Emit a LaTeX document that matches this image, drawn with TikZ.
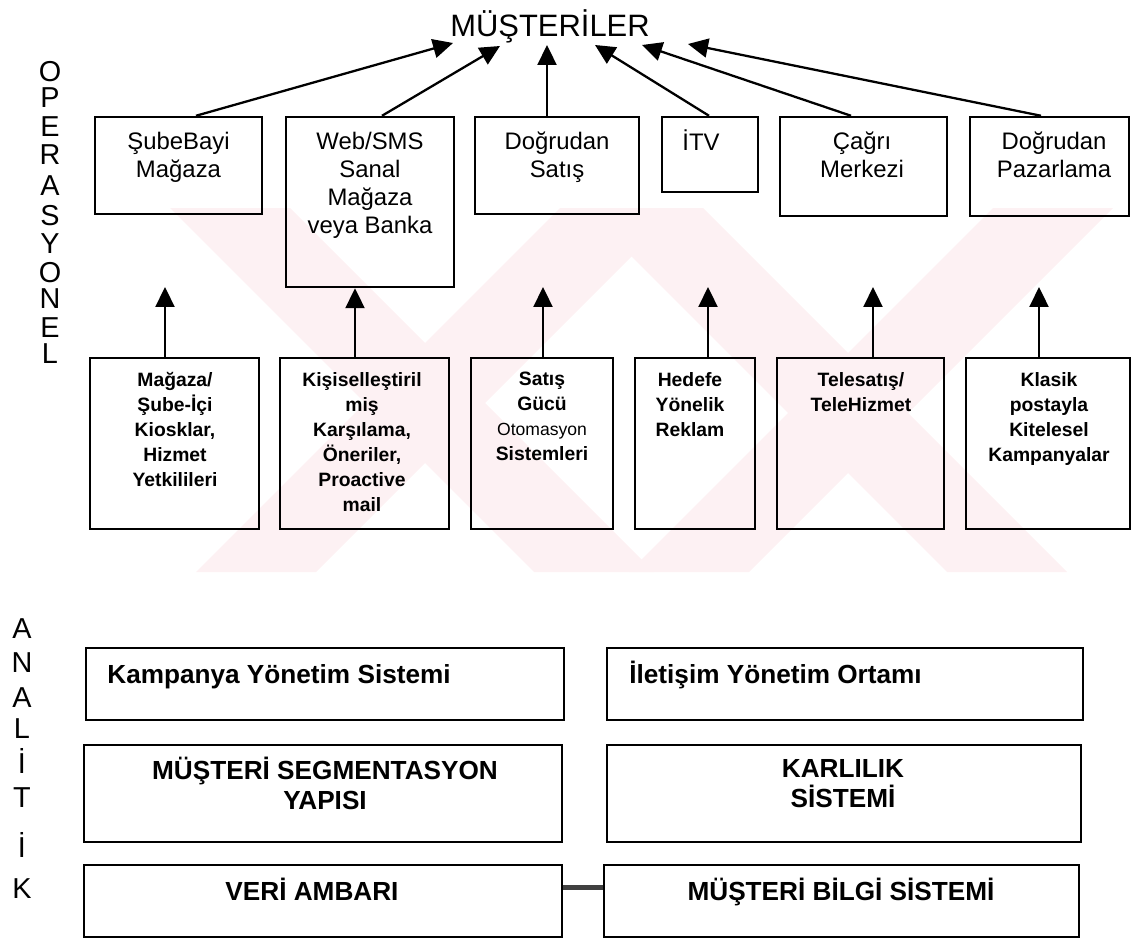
\documentclass[tikz,border=0pt]{standalone}
\usepackage{fontspec}
\setmainfont{Liberation Sans}
\usetikzlibrary{arrows.meta,fit}
\definecolor{filigran}{RGB}{253,241,243}

\begin{document}
\begin{tikzpicture}[x=0.02cm,y=-0.02cm,
  kutu/.style={draw, line width=1.4pt, inner sep=0pt},
  ustyazi/.style={anchor=north, align=center, inner sep=0pt, font=\fontsize{13.6}{15.9}\selectfont},
  altyazi/.style={anchor=north, align=center, inner sep=0pt, font=\bfseries\fontsize{11}{14.2}\selectfont},
  anayazi/.style={inner sep=0pt, align=center, font=\bfseries\fontsize{14.9}{17}\selectfont},
  harf/.style={anchor=base, inner sep=0pt, font=\fontsize{16.4}{16}\selectfont},
  ok/.style={line width=1.3pt, -{Triangle[length=0.4cm,width=0.38cm]}}]
\useasboundingbox (0,0) rectangle (1131,939);

% filigran
\begin{scope}
\clip (165,208) rectangle (1131,572);
\foreach \a in {170,583} \fill[filigran] (\a,208) -- ++(120,0) -- ++(364,364) -- ++(-120,0) -- cycle;
\foreach \a in {560,993} \fill[filigran] (\a,208) -- ++(120,0) -- ++(-364,364) -- ++(-120,0) -- cycle;
\end{scope}

\node[anchor=base, inner sep=0pt, font=\fontsize{17.6}{20}\selectfont] (mus) at (550,37) {MÜŞTERİLER};

% yan yazilar
\foreach \h/\y [count=\i] in {O/82,P/108,E/137,R/165,A/195,S/225,Y/253,O/282,N/308,E/337,L/363}
  \node[harf] (op\i) at (50,\y) {\h};
\foreach \h/\y [count=\i] in {A/638,N/672,A/707,L/738,İ/773,T/807,İ/857,K/898}
  \node[harf] (an\i) at (22,\y) {\h};

% kanallar
\node[kutu, fit={(95,117) (262,214)}] (sube) {};
\node[kutu, fit={(286,117) (454,287)}] (web) {};
\node[kutu, fit={(475,117) (639,214)}] (dsatis) {};
\node[kutu, fit={(662,117) (758,192)}] (itv) {};
\node[kutu, fit={(780,117) (947,216)}] (cagri) {};
\node[kutu, fit={(970,117) (1129,216)}] (dpaz) {};
\node[ustyazi] (subeY) at (178.5,132) {ŞubeBayi\\Mağaza};
\node[ustyazi] (webY) at (370,132) {Web/SMS\\Sanal\\Mağaza\\veya Banka};
\node[ustyazi] (dsatisY) at (557,132) {Doğrudan\\Satış};
\node[ustyazi] (itvY) at (701,129) {İTV};
\node[ustyazi] (cagriY) at (862,132) {Çağrı\\Merkezi};
\node[ustyazi] (dpazY) at (1054,132) {Doğrudan\\Pazarlama};

\coordinate (m1) at (453,43);
\coordinate (m2) at (500,46);
\coordinate (m3) at (547,45);
\coordinate (m4) at (595,45);
\coordinate (m5) at (642,45);
\coordinate (m6) at (688,44);
\draw[ok] (sube.north -| 196,0) -- (m1);
\draw[ok] (web.north -| 382,0) -- (m2);
\draw[ok] (dsatis.north -| m3) -- (m3);
\draw[ok] (itv.north -| 709,0) -- (m4);
\draw[ok] (cagri.north -| 851,0) -- (m5);
\draw[ok] (dpaz.north -| 1041,0) -- (m6);

% araclar
\node[kutu, fit={(90,358) (259,529)}] (kiosk) {};
\node[kutu, fit={(280,358) (449,529)}] (kisi) {};
\node[kutu, fit={(471,358) (613,529)}] (sgucu) {};
\node[kutu, fit={(635,358) (755,529)}] (hedef) {};
\node[kutu, fit={(777,358) (944,529)}] (tele) {};
\node[kutu, fit={(966,358) (1130,529)}] (klasik) {};
\node[altyazi] (kioskY) at (175,372) {Mağaza/\\Şube-İçi\\Kiosklar,\\Hizmet\\Yetkilileri};
\node[altyazi] (kisiY) at (362,372) {Kişiselleştiril\\miş\\Karşılama,\\Öneriler,\\Proactive\\mail};
\node[altyazi] (sgucuY) at (542,372) {Satış\\Gücü\\{\mdseries\fontsize{10}{14.2}\selectfont Otomasyon}\\Sistemleri};
\node[altyazi] (hedefY) at (690,372) {Hedefe\\Yönelik\\Reklam};
\node[altyazi] (teleY) at (861,372) {Telesatış/\\TeleHizmet};
\node[altyazi] (klasikY) at (1049,372) {Klasik\\postayla\\Kitelesel\\Kampanyalar};

\coordinate (a1) at (165,287);
\coordinate (a3) at (543,287);
\coordinate (a4) at (708,287);
\coordinate (a5) at (873,287);
\coordinate (a6) at (1039,287);
\draw[ok] (kiosk.north -| a1) -- (a1);
\draw[ok] (kisi.north -| 355,0) -- (web.south -| 355,0);
\draw[ok] (sgucu.north -| a3) -- (a3);
\draw[ok] (hedef.north -| a4) -- (a4);
\draw[ok] (tele.north -| a5) -- (a5);
\draw[ok] (klasik.north -| a6) -- (a6);

% analitik katman
\node[kutu, fit={(86,648) (564,720)}] (kys) {};
\node[kutu, fit={(607,648) (1083,720)}] (iyo) {};
\node[kutu, fit={(84,745) (562,842)}] (seg) {};
\node[kutu, fit={(607,745) (1081,842)}] (karl) {};
\node[kutu, fit={(84,865) (562,937)}] (veri) {};
\node[kutu, fit={(604,865) (1079,937)}] (mbs) {};
\node[anayazi, anchor=base west] (kysY) at (107,683) {Kampanya Yönetim Sistemi};
\node[anayazi, anchor=base west] (iyoY) at (629,683) {İletişim Yönetim Ortamı};
\node[anayazi, anchor=north] (segY) at (325,757) {MÜŞTERİ SEGMENTASYON\\YAPISI};
\node[anayazi, anchor=north] (karlY) at (843,759) {KARLILIK\\SİSTEMİ};
\node[anayazi, anchor=base] (veriY) at (312,900) {VERİ AMBARI};
\node[anayazi, anchor=base] (mbsY) at (841,900) {MÜŞTERİ BİLGİ SİSTEMİ};
\draw[line width=3pt, black!75] ([yshift=0.27cm]veri.east) -- ([yshift=0.27cm]mbs.west);
\end{tikzpicture}
\end{document}
